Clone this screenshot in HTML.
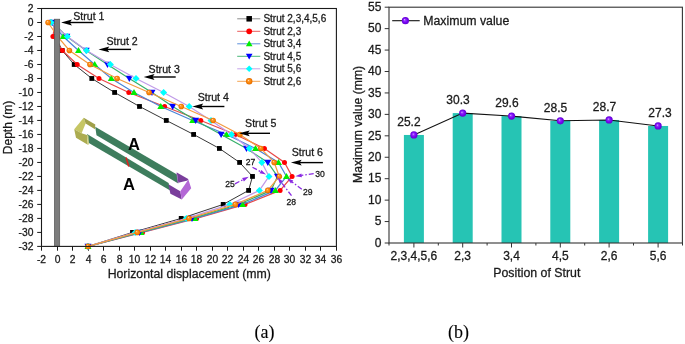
<!DOCTYPE html>
<html><head><meta charset="utf-8"><style>
html,body{margin:0;padding:0;background:#fff;}
svg{display:block;font-family:"Liberation Sans", sans-serif;will-change:transform;}
text{stroke:#1a1a1a;stroke-width:0.28px;}
</style></head><body>
<svg width="685" height="344" viewBox="0 0 685 344">
<defs>
<radialGradient id="gor" cx="0.5" cy="0.5" r="0.5" fx="0.38" fy="0.36"><stop offset="0" stop-color="#ffe8c8"/><stop offset="0.25" stop-color="#ff9a30"/><stop offset="0.7" stop-color="#f88000"/><stop offset="1" stop-color="#e06800"/></radialGradient>
<radialGradient id="gpu" cx="0.5" cy="0.5" r="0.5" fx="0.38" fy="0.36"><stop offset="0" stop-color="#f4e8ff"/><stop offset="0.22" stop-color="#9a3cff"/><stop offset="0.6" stop-color="#7a08f4"/><stop offset="1" stop-color="#6200d0"/></radialGradient>
</defs>
<rect width="685" height="344" fill="#fff"/>
<line x1="37.20" y1="8.50" x2="41.50" y2="8.50" stroke="#1a1a1a" stroke-width="1"/>
<text x="33.4" y="12.10" text-anchor="end" font-size="10.3" fill="#1a1a1a">2</text>
<line x1="37.20" y1="22.49" x2="41.50" y2="22.49" stroke="#1a1a1a" stroke-width="1"/>
<text x="33.4" y="26.09" text-anchor="end" font-size="10.3" fill="#1a1a1a">0</text>
<line x1="37.20" y1="36.49" x2="41.50" y2="36.49" stroke="#1a1a1a" stroke-width="1"/>
<text x="33.4" y="40.09" text-anchor="end" font-size="10.3" fill="#1a1a1a">-2</text>
<line x1="37.20" y1="50.48" x2="41.50" y2="50.48" stroke="#1a1a1a" stroke-width="1"/>
<text x="33.4" y="54.08" text-anchor="end" font-size="10.3" fill="#1a1a1a">-4</text>
<line x1="37.20" y1="64.48" x2="41.50" y2="64.48" stroke="#1a1a1a" stroke-width="1"/>
<text x="33.4" y="68.08" text-anchor="end" font-size="10.3" fill="#1a1a1a">-6</text>
<line x1="37.20" y1="78.47" x2="41.50" y2="78.47" stroke="#1a1a1a" stroke-width="1"/>
<text x="33.4" y="82.07" text-anchor="end" font-size="10.3" fill="#1a1a1a">-8</text>
<line x1="37.20" y1="92.46" x2="41.50" y2="92.46" stroke="#1a1a1a" stroke-width="1"/>
<text x="33.4" y="96.06" text-anchor="end" font-size="10.3" fill="#1a1a1a">-10</text>
<line x1="37.20" y1="106.46" x2="41.50" y2="106.46" stroke="#1a1a1a" stroke-width="1"/>
<text x="33.4" y="110.06" text-anchor="end" font-size="10.3" fill="#1a1a1a">-12</text>
<line x1="37.20" y1="120.45" x2="41.50" y2="120.45" stroke="#1a1a1a" stroke-width="1"/>
<text x="33.4" y="124.05" text-anchor="end" font-size="10.3" fill="#1a1a1a">-14</text>
<line x1="37.20" y1="134.45" x2="41.50" y2="134.45" stroke="#1a1a1a" stroke-width="1"/>
<text x="33.4" y="138.05" text-anchor="end" font-size="10.3" fill="#1a1a1a">-16</text>
<line x1="37.20" y1="148.44" x2="41.50" y2="148.44" stroke="#1a1a1a" stroke-width="1"/>
<text x="33.4" y="152.04" text-anchor="end" font-size="10.3" fill="#1a1a1a">-18</text>
<line x1="37.20" y1="162.44" x2="41.50" y2="162.44" stroke="#1a1a1a" stroke-width="1"/>
<text x="33.4" y="166.04" text-anchor="end" font-size="10.3" fill="#1a1a1a">-20</text>
<line x1="37.20" y1="176.43" x2="41.50" y2="176.43" stroke="#1a1a1a" stroke-width="1"/>
<text x="33.4" y="180.03" text-anchor="end" font-size="10.3" fill="#1a1a1a">-22</text>
<line x1="37.20" y1="190.42" x2="41.50" y2="190.42" stroke="#1a1a1a" stroke-width="1"/>
<text x="33.4" y="194.02" text-anchor="end" font-size="10.3" fill="#1a1a1a">-24</text>
<line x1="37.20" y1="204.42" x2="41.50" y2="204.42" stroke="#1a1a1a" stroke-width="1"/>
<text x="33.4" y="208.02" text-anchor="end" font-size="10.3" fill="#1a1a1a">-26</text>
<line x1="37.20" y1="218.41" x2="41.50" y2="218.41" stroke="#1a1a1a" stroke-width="1"/>
<text x="33.4" y="222.01" text-anchor="end" font-size="10.3" fill="#1a1a1a">-28</text>
<line x1="37.20" y1="232.41" x2="41.50" y2="232.41" stroke="#1a1a1a" stroke-width="1"/>
<text x="33.4" y="236.01" text-anchor="end" font-size="10.3" fill="#1a1a1a">-30</text>
<line x1="37.20" y1="246.40" x2="41.50" y2="246.40" stroke="#1a1a1a" stroke-width="1"/>
<text x="33.4" y="250.00" text-anchor="end" font-size="10.3" fill="#1a1a1a">-32</text>
<line x1="41.50" y1="246.40" x2="41.50" y2="250.70" stroke="#1a1a1a" stroke-width="1"/>
<text x="41.50" y="262.6" text-anchor="middle" font-size="10.3" fill="#1a1a1a">-2</text>
<line x1="57.50" y1="246.40" x2="57.50" y2="250.70" stroke="#1a1a1a" stroke-width="1"/>
<text x="57.50" y="262.6" text-anchor="middle" font-size="10.3" fill="#1a1a1a">0</text>
<line x1="72.50" y1="246.40" x2="72.50" y2="250.70" stroke="#1a1a1a" stroke-width="1"/>
<text x="72.50" y="262.6" text-anchor="middle" font-size="10.3" fill="#1a1a1a">2</text>
<line x1="88.50" y1="246.40" x2="88.50" y2="250.70" stroke="#1a1a1a" stroke-width="1"/>
<text x="88.50" y="262.6" text-anchor="middle" font-size="10.3" fill="#1a1a1a">4</text>
<line x1="103.50" y1="246.40" x2="103.50" y2="250.70" stroke="#1a1a1a" stroke-width="1"/>
<text x="103.50" y="262.6" text-anchor="middle" font-size="10.3" fill="#1a1a1a">6</text>
<line x1="119.50" y1="246.40" x2="119.50" y2="250.70" stroke="#1a1a1a" stroke-width="1"/>
<text x="119.50" y="262.6" text-anchor="middle" font-size="10.3" fill="#1a1a1a">8</text>
<line x1="134.50" y1="246.40" x2="134.50" y2="250.70" stroke="#1a1a1a" stroke-width="1"/>
<text x="134.50" y="262.6" text-anchor="middle" font-size="10.3" fill="#1a1a1a">10</text>
<line x1="150.50" y1="246.40" x2="150.50" y2="250.70" stroke="#1a1a1a" stroke-width="1"/>
<text x="150.50" y="262.6" text-anchor="middle" font-size="10.3" fill="#1a1a1a">12</text>
<line x1="165.50" y1="246.40" x2="165.50" y2="250.70" stroke="#1a1a1a" stroke-width="1"/>
<text x="165.50" y="262.6" text-anchor="middle" font-size="10.3" fill="#1a1a1a">14</text>
<line x1="181.50" y1="246.40" x2="181.50" y2="250.70" stroke="#1a1a1a" stroke-width="1"/>
<text x="181.50" y="262.6" text-anchor="middle" font-size="10.3" fill="#1a1a1a">16</text>
<line x1="196.50" y1="246.40" x2="196.50" y2="250.70" stroke="#1a1a1a" stroke-width="1"/>
<text x="196.50" y="262.6" text-anchor="middle" font-size="10.3" fill="#1a1a1a">18</text>
<line x1="212.50" y1="246.40" x2="212.50" y2="250.70" stroke="#1a1a1a" stroke-width="1"/>
<text x="212.50" y="262.6" text-anchor="middle" font-size="10.3" fill="#1a1a1a">20</text>
<line x1="227.50" y1="246.40" x2="227.50" y2="250.70" stroke="#1a1a1a" stroke-width="1"/>
<text x="227.50" y="262.6" text-anchor="middle" font-size="10.3" fill="#1a1a1a">22</text>
<line x1="243.50" y1="246.40" x2="243.50" y2="250.70" stroke="#1a1a1a" stroke-width="1"/>
<text x="243.50" y="262.6" text-anchor="middle" font-size="10.3" fill="#1a1a1a">24</text>
<line x1="258.50" y1="246.40" x2="258.50" y2="250.70" stroke="#1a1a1a" stroke-width="1"/>
<text x="258.50" y="262.6" text-anchor="middle" font-size="10.3" fill="#1a1a1a">26</text>
<line x1="274.50" y1="246.40" x2="274.50" y2="250.70" stroke="#1a1a1a" stroke-width="1"/>
<text x="274.50" y="262.6" text-anchor="middle" font-size="10.3" fill="#1a1a1a">28</text>
<line x1="289.50" y1="246.40" x2="289.50" y2="250.70" stroke="#1a1a1a" stroke-width="1"/>
<text x="289.50" y="262.6" text-anchor="middle" font-size="10.3" fill="#1a1a1a">30</text>
<line x1="305.50" y1="246.40" x2="305.50" y2="250.70" stroke="#1a1a1a" stroke-width="1"/>
<text x="305.50" y="262.6" text-anchor="middle" font-size="10.3" fill="#1a1a1a">32</text>
<line x1="320.50" y1="246.40" x2="320.50" y2="250.70" stroke="#1a1a1a" stroke-width="1"/>
<text x="320.50" y="262.6" text-anchor="middle" font-size="10.3" fill="#1a1a1a">34</text>
<line x1="336.50" y1="246.40" x2="336.50" y2="250.70" stroke="#1a1a1a" stroke-width="1"/>
<text x="336.50" y="262.6" text-anchor="middle" font-size="10.3" fill="#1a1a1a">36</text>
<text x="189.3" y="278.3" text-anchor="middle" font-size="12.3" fill="#1a1a1a">Horizontal displacement (mm)</text>
<text transform="translate(12.2,127.5) rotate(-90)" text-anchor="middle" font-size="12" fill="#1a1a1a">Depth (m)</text>
<polyline points="53.50,22.49 55.50,36.49 62.20,50.48 74.20,64.48 91.80,78.47 114.60,92.46 139.50,106.46 166.30,120.45 193.60,134.45 219.40,148.44 239.60,162.44 252.50,176.43 248.60,190.42 223.20,204.42 181.20,218.41 132.50,232.41 88.00,246.40" fill="none" stroke="#2b2b2b" stroke-width="0.95"/>
<rect x="51.10" y="20.09" width="4.80" height="4.80" fill="#000000"/>
<rect x="53.10" y="34.09" width="4.80" height="4.80" fill="#000000"/>
<rect x="59.80" y="48.08" width="4.80" height="4.80" fill="#000000"/>
<rect x="71.80" y="62.08" width="4.80" height="4.80" fill="#000000"/>
<rect x="89.40" y="76.07" width="4.80" height="4.80" fill="#000000"/>
<rect x="112.20" y="90.06" width="4.80" height="4.80" fill="#000000"/>
<rect x="137.10" y="104.06" width="4.80" height="4.80" fill="#000000"/>
<rect x="163.90" y="118.05" width="4.80" height="4.80" fill="#000000"/>
<rect x="191.20" y="132.05" width="4.80" height="4.80" fill="#000000"/>
<rect x="217.00" y="146.04" width="4.80" height="4.80" fill="#000000"/>
<rect x="237.20" y="160.04" width="4.80" height="4.80" fill="#000000"/>
<rect x="250.10" y="174.03" width="4.80" height="4.80" fill="#000000"/>
<rect x="246.20" y="188.02" width="4.80" height="4.80" fill="#000000"/>
<rect x="220.80" y="202.02" width="4.80" height="4.80" fill="#000000"/>
<rect x="178.80" y="216.01" width="4.80" height="4.80" fill="#000000"/>
<rect x="130.10" y="230.01" width="4.80" height="4.80" fill="#000000"/>
<rect x="85.60" y="244.00" width="4.80" height="4.80" fill="#000000"/>
<polyline points="55.00,22.49 52.90,36.49 62.40,50.48 77.20,64.48 99.00,78.47 128.80,92.46 164.60,106.46 200.80,120.45 235.30,134.45 264.40,148.44 284.50,162.44 292.10,176.43 280.10,190.42 245.00,204.42 196.50,218.41 142.50,232.41 88.00,246.40" fill="none" stroke="#e84848" stroke-width="1.2"/>
<circle cx="55.00" cy="22.49" r="2.50" fill="#ff0000"/>
<circle cx="52.90" cy="36.49" r="2.50" fill="#ff0000"/>
<circle cx="62.40" cy="50.48" r="2.50" fill="#ff0000"/>
<circle cx="77.20" cy="64.48" r="2.50" fill="#ff0000"/>
<circle cx="99.00" cy="78.47" r="2.50" fill="#ff0000"/>
<circle cx="128.80" cy="92.46" r="2.50" fill="#ff0000"/>
<circle cx="164.60" cy="106.46" r="2.50" fill="#ff0000"/>
<circle cx="200.80" cy="120.45" r="2.50" fill="#ff0000"/>
<circle cx="235.30" cy="134.45" r="2.50" fill="#ff0000"/>
<circle cx="264.40" cy="148.44" r="2.50" fill="#ff0000"/>
<circle cx="284.50" cy="162.44" r="2.50" fill="#ff0000"/>
<circle cx="292.10" cy="176.43" r="2.50" fill="#ff0000"/>
<circle cx="280.10" cy="190.42" r="2.50" fill="#ff0000"/>
<circle cx="245.00" cy="204.42" r="2.50" fill="#ff0000"/>
<circle cx="196.50" cy="218.41" r="2.50" fill="#ff0000"/>
<circle cx="142.50" cy="232.41" r="2.50" fill="#ff0000"/>
<circle cx="88.00" cy="246.40" r="2.50" fill="#ff0000"/>
<polyline points="51.00,22.49 63.20,36.49 78.50,50.48 94.70,64.48 111.30,78.47 134.00,92.46 160.80,106.46 192.70,120.45 226.50,134.45 255.50,148.44 278.50,162.44 286.50,176.43 275.30,190.42 242.50,204.42 194.80,218.41 141.00,232.41 88.00,246.40" fill="none" stroke="#4a84d8" stroke-width="1.2"/>
<polygon points="51.00,18.99 54.50,25.12 47.50,25.12" fill="#00ee00"/>
<polygon points="63.20,32.99 66.70,39.11 59.70,39.11" fill="#00ee00"/>
<polygon points="78.50,46.98 82.00,53.11 75.00,53.11" fill="#00ee00"/>
<polygon points="94.70,60.98 98.20,67.10 91.20,67.10" fill="#00ee00"/>
<polygon points="111.30,74.97 114.80,81.10 107.80,81.10" fill="#00ee00"/>
<polygon points="134.00,88.96 137.50,95.09 130.50,95.09" fill="#00ee00"/>
<polygon points="160.80,102.96 164.30,109.08 157.30,109.08" fill="#00ee00"/>
<polygon points="192.70,116.95 196.20,123.08 189.20,123.08" fill="#00ee00"/>
<polygon points="226.50,130.95 230.00,137.07 223.00,137.07" fill="#00ee00"/>
<polygon points="255.50,144.94 259.00,151.07 252.00,151.07" fill="#00ee00"/>
<polygon points="278.50,158.94 282.00,165.06 275.00,165.06" fill="#00ee00"/>
<polygon points="286.50,172.93 290.00,179.05 283.00,179.05" fill="#00ee00"/>
<polygon points="275.30,186.92 278.80,193.05 271.80,193.05" fill="#00ee00"/>
<polygon points="242.50,200.92 246.00,207.04 239.00,207.04" fill="#00ee00"/>
<polygon points="194.80,214.91 198.30,221.04 191.30,221.04" fill="#00ee00"/>
<polygon points="141.00,228.91 144.50,235.03 137.50,235.03" fill="#00ee00"/>
<polygon points="88.00,242.90 91.50,249.03 84.50,249.03" fill="#00ee00"/>
<polyline points="52.50,22.49 66.80,36.49 86.20,50.48 107.50,64.48 129.30,78.47 152.00,92.46 172.70,106.46 195.70,120.45 221.10,134.45 246.50,148.44 267.80,162.44 277.50,176.43 271.00,190.42 238.60,204.42 192.00,218.41 139.50,232.41 88.00,246.40" fill="none" stroke="#36b06a" stroke-width="1.2"/>
<polygon points="49.00,19.87 56.00,19.87 52.50,25.99" fill="#0000ff"/>
<polygon points="63.30,33.86 70.30,33.86 66.80,39.99" fill="#0000ff"/>
<polygon points="82.70,47.86 89.70,47.86 86.20,53.98" fill="#0000ff"/>
<polygon points="104.00,61.85 111.00,61.85 107.50,67.98" fill="#0000ff"/>
<polygon points="125.80,75.85 132.80,75.85 129.30,81.97" fill="#0000ff"/>
<polygon points="148.50,89.84 155.50,89.84 152.00,95.96" fill="#0000ff"/>
<polygon points="169.20,103.83 176.20,103.83 172.70,109.96" fill="#0000ff"/>
<polygon points="192.20,117.83 199.20,117.83 195.70,123.95" fill="#0000ff"/>
<polygon points="217.60,131.82 224.60,131.82 221.10,137.95" fill="#0000ff"/>
<polygon points="243.00,145.82 250.00,145.82 246.50,151.94" fill="#0000ff"/>
<polygon points="264.30,159.81 271.30,159.81 267.80,165.94" fill="#0000ff"/>
<polygon points="274.00,173.80 281.00,173.80 277.50,179.93" fill="#0000ff"/>
<polygon points="267.50,187.80 274.50,187.80 271.00,193.92" fill="#0000ff"/>
<polygon points="235.10,201.79 242.10,201.79 238.60,207.92" fill="#0000ff"/>
<polygon points="188.50,215.79 195.50,215.79 192.00,221.91" fill="#0000ff"/>
<polygon points="136.00,229.78 143.00,229.78 139.50,235.91" fill="#0000ff"/>
<polygon points="84.50,243.78 91.50,243.78 88.00,249.90" fill="#0000ff"/>
<polyline points="51.20,22.49 67.30,36.49 86.50,50.48 110.40,64.48 136.00,78.47 163.60,92.46 189.20,106.46 211.00,120.45 231.50,134.45 249.30,148.44 261.80,162.44 269.00,176.43 259.40,190.42 229.80,204.42 186.40,218.41 135.20,232.41 88.00,246.40" fill="none" stroke="#c09ae8" stroke-width="1.2"/>
<polygon points="51.20,18.99 54.70,22.49 51.20,25.99 47.70,22.49" fill="#00ffff"/>
<polygon points="67.30,32.99 70.80,36.49 67.30,39.99 63.80,36.49" fill="#00ffff"/>
<polygon points="86.50,46.98 90.00,50.48 86.50,53.98 83.00,50.48" fill="#00ffff"/>
<polygon points="110.40,60.98 113.90,64.48 110.40,67.98 106.90,64.48" fill="#00ffff"/>
<polygon points="136.00,74.97 139.50,78.47 136.00,81.97 132.50,78.47" fill="#00ffff"/>
<polygon points="163.60,88.96 167.10,92.46 163.60,95.96 160.10,92.46" fill="#00ffff"/>
<polygon points="189.20,102.96 192.70,106.46 189.20,109.96 185.70,106.46" fill="#00ffff"/>
<polygon points="211.00,116.95 214.50,120.45 211.00,123.95 207.50,120.45" fill="#00ffff"/>
<polygon points="231.50,130.95 235.00,134.45 231.50,137.95 228.00,134.45" fill="#00ffff"/>
<polygon points="249.30,144.94 252.80,148.44 249.30,151.94 245.80,148.44" fill="#00ffff"/>
<polygon points="261.80,158.94 265.30,162.44 261.80,165.94 258.30,162.44" fill="#00ffff"/>
<polygon points="269.00,172.93 272.50,176.43 269.00,179.93 265.50,176.43" fill="#00ffff"/>
<polygon points="259.40,186.92 262.90,190.42 259.40,193.92 255.90,190.42" fill="#00ffff"/>
<polygon points="229.80,200.92 233.30,204.42 229.80,207.92 226.30,204.42" fill="#00ffff"/>
<polygon points="186.40,214.91 189.90,218.41 186.40,221.91 182.90,218.41" fill="#00ffff"/>
<polygon points="135.20,228.91 138.70,232.41 135.20,235.91 131.70,232.41" fill="#00ffff"/>
<polygon points="88.00,242.90 91.50,246.40 88.00,249.90 84.50,246.40" fill="#00ffff"/>
<polyline points="48.10,22.49 57.50,36.49 69.40,50.48 90.00,64.48 117.10,78.47 149.10,92.46 181.30,106.46 213.10,120.45 239.80,134.45 260.80,148.44 274.20,162.44 279.30,176.43 267.80,190.42 235.40,204.42 189.00,218.41 137.30,232.41 88.00,246.40" fill="none" stroke="#f39a40" stroke-width="1.2"/>
<circle cx="48.10" cy="22.49" r="2.80" fill="url(#gor)"/>
<circle cx="57.50" cy="36.49" r="2.80" fill="url(#gor)"/>
<circle cx="69.40" cy="50.48" r="2.80" fill="url(#gor)"/>
<circle cx="90.00" cy="64.48" r="2.80" fill="url(#gor)"/>
<circle cx="117.10" cy="78.47" r="2.80" fill="url(#gor)"/>
<circle cx="149.10" cy="92.46" r="2.80" fill="url(#gor)"/>
<circle cx="181.30" cy="106.46" r="2.80" fill="url(#gor)"/>
<circle cx="213.10" cy="120.45" r="2.80" fill="url(#gor)"/>
<circle cx="239.80" cy="134.45" r="2.80" fill="url(#gor)"/>
<circle cx="260.80" cy="148.44" r="2.80" fill="url(#gor)"/>
<circle cx="274.20" cy="162.44" r="2.80" fill="url(#gor)"/>
<circle cx="279.30" cy="176.43" r="2.80" fill="url(#gor)"/>
<circle cx="267.80" cy="190.42" r="2.80" fill="url(#gor)"/>
<circle cx="235.40" cy="204.42" r="2.80" fill="url(#gor)"/>
<circle cx="189.00" cy="218.41" r="2.80" fill="url(#gor)"/>
<circle cx="137.30" cy="232.41" r="2.80" fill="url(#gor)"/>
<circle cx="88.00" cy="246.40" r="2.80" fill="url(#gor)"/>
<rect x="54.4" y="19.2" width="5.3" height="227.20" fill="#7c7c7c" stroke="#555" stroke-width="0.7"/>
<rect x="41.5" y="8.5" width="294.90" height="237.90" fill="none" stroke="#1a1a1a" stroke-width="1.1"/>
<line x1="237.2" y1="18.8" x2="260.3" y2="18.8" stroke="#808080" stroke-width="0.9"/>
<rect x="246.44" y="16.04" width="5.52" height="5.52" fill="#000000"/>
<text x="263.4" y="22.40" font-size="10" fill="#1a1a1a">Strut 2,3,4,5,6</text>
<line x1="237.2" y1="31.3" x2="260.3" y2="31.3" stroke="#e84848" stroke-width="0.9"/>
<circle cx="249.20" cy="31.30" r="2.88" fill="#ff0000"/>
<text x="263.4" y="34.90" font-size="10" fill="#1a1a1a">Strut 2,3</text>
<line x1="237.2" y1="43.8" x2="260.3" y2="43.8" stroke="#4a84d8" stroke-width="0.9"/>
<polygon points="249.20,40.47 252.52,46.29 245.88,46.29" fill="#00ee00"/>
<text x="263.4" y="47.40" font-size="10" fill="#1a1a1a">Strut 3,4</text>
<line x1="237.2" y1="56.3" x2="260.3" y2="56.3" stroke="#36b06a" stroke-width="0.9"/>
<polygon points="245.88,53.81 252.52,53.81 249.20,59.62" fill="#0000ff"/>
<text x="263.4" y="59.90" font-size="10" fill="#1a1a1a">Strut 4,5</text>
<line x1="237.2" y1="68.8" x2="260.3" y2="68.8" stroke="#c09ae8" stroke-width="0.9"/>
<polygon points="249.20,65.47 252.52,68.80 249.20,72.12 245.88,68.80" fill="#00ffff"/>
<text x="263.4" y="72.40" font-size="10" fill="#1a1a1a">Strut 5,6</text>
<line x1="237.2" y1="81.3" x2="260.3" y2="81.3" stroke="#f39a40" stroke-width="0.9"/>
<circle cx="249.20" cy="81.30" r="3.22" fill="url(#gor)"/>
<text x="263.4" y="84.90" font-size="10" fill="#1a1a1a">Strut 2,6</text>
<text x="73.3" y="20.2" font-size="10.6" fill="#1a1a1a">Strut 1</text>
<line x1="69.10" y1="22.5" x2="93.4" y2="22.5" stroke="#000" stroke-width="1.4"/>
<polygon points="61.1,22.5 71.90,19.60 69.90,22.5 71.90,25.40" fill="#000"/>
<text x="106.5" y="45.2" font-size="10.6" fill="#1a1a1a">Strut 2</text>
<line x1="106.50" y1="49.4" x2="131" y2="49.4" stroke="#000" stroke-width="1.4"/>
<polygon points="98.5,49.4 109.30,46.50 107.30,49.4 109.30,52.30" fill="#000"/>
<text x="148.6" y="72.6" font-size="10.6" fill="#1a1a1a">Strut 3</text>
<line x1="151.70" y1="77.0" x2="175.7" y2="77.0" stroke="#000" stroke-width="1.4"/>
<polygon points="143.7,77.0 154.50,74.10 152.50,77.0 154.50,79.90" fill="#000"/>
<text x="197.7" y="100.8" font-size="10.6" fill="#1a1a1a">Strut 4</text>
<line x1="200.40" y1="106.5" x2="224.4" y2="106.5" stroke="#000" stroke-width="1.4"/>
<polygon points="192.4,106.5 203.20,103.60 201.20,106.5 203.20,109.40" fill="#000"/>
<text x="245.1" y="127.0" font-size="10.6" fill="#1a1a1a">Strut 5</text>
<line x1="246.90" y1="133.3" x2="270" y2="133.3" stroke="#000" stroke-width="1.4"/>
<polygon points="238.9,133.3 249.70,130.40 247.70,133.3 249.70,136.20" fill="#000"/>
<text x="291.8" y="155.6" font-size="10.6" fill="#1a1a1a">Strut 6</text>
<line x1="298.90" y1="162.60000000000002" x2="322.9" y2="162.60000000000002" stroke="#000" stroke-width="1.4"/>
<polygon points="290.9,162.60000000000002 301.70,159.70 299.70,162.60000000000002 301.70,165.50" fill="#000"/>
<text x="245.8" y="165.4" font-size="8.6" fill="#1a1a1a">27</text>
<line x1="252.5" y1="167.3" x2="260.90" y2="171.81" stroke="#8a2be2" stroke-width="1.3" stroke-dasharray="5,2,1.5,2"/>
<polygon points="266.1,174.6 259.56,173.25 261.36,169.90" fill="#8a2be2"/>
<text x="225.2" y="187.0" font-size="8.6" fill="#1a1a1a">25</text>
<line x1="234.9" y1="183.8" x2="243.44" y2="179.47" stroke="#8a2be2" stroke-width="1.3" stroke-dasharray="5,2,1.5,2"/>
<polygon points="248.7,176.8 243.85,181.39 242.13,178.00" fill="#8a2be2"/>
<text x="315.3" y="176.6" font-size="8.6" fill="#1a1a1a">30</text>
<line x1="313.7" y1="173.6" x2="301.14" y2="175.44" stroke="#8a2be2" stroke-width="1.3" stroke-dasharray="5,2,1.5,2"/>
<polygon points="295.3,176.3 301.36,173.49 301.91,177.25" fill="#8a2be2"/>
<text x="303.0" y="195.0" font-size="8.6" fill="#1a1a1a">29</text>
<line x1="301.8" y1="189.2" x2="291.74" y2="181.72" stroke="#8a2be2" stroke-width="1.3" stroke-dasharray="5,2,1.5,2"/>
<polygon points="287.0,178.2 293.27,180.49 291.00,183.54" fill="#8a2be2"/>
<text x="286.5" y="205.3" font-size="8.6" fill="#1a1a1a">28</text>
<line x1="291.5" y1="195.7" x2="281.08" y2="182.09" stroke="#8a2be2" stroke-width="1.3" stroke-dasharray="5,2,1.5,2"/>
<polygon points="277.5,177.4 282.90,181.33 279.88,183.64" fill="#8a2be2"/>
<polygon points="95.2,126.8 177.0,174.4 178.3,183.6 96.5,135.3" fill="#3e7d5d"/>
<polygon points="87.0,134.1 168.6,183.1 170.2,190.4 88.4,142.8" fill="#3e7d5d"/>
<polygon points="83.7,117.8 74.2,129.3 81.6,133.2 85.6,123.6" fill="#c6c664"/>
<polygon points="83.7,117.8 95.3,124.4 95.0,129.2 85.6,123.6" fill="#a0a04a"/>
<polygon points="74.2,129.3 76.0,137.8 87.8,144.8 87.0,135.0 81.6,133.2" fill="#acac50"/>
<polygon points="87.0,135.0 87.8,144.8 89.0,144.4 88.4,135.6" fill="#d2d282"/>
<polygon points="176.8,172.4 188.2,178.9 187.7,180.6 178.3,182.8" fill="#7a3e9c"/>
<polygon points="176.8,172.4 178.3,182.8 177.6,182.9 176.4,172.8" fill="#a865c8"/>
<polygon points="168.4,184.3 180.3,191.2 181.8,199.6 170.4,193.7" fill="#7a3e9c"/>
<polygon points="188.2,178.9 191.2,188.2 181.8,199.6 180.3,191.2 187.7,180.6" fill="#b468d6"/>
<line x1="126.0" y1="157.6" x2="128.8" y2="166.4" stroke="#e02020" stroke-width="1.5"/>
<text x="134.1" y="149.6" text-anchor="middle" font-size="16.6" font-weight="bold" fill="#000" style="stroke:none">A</text>
<text x="129.0" y="189.6" text-anchor="middle" font-size="16.6" font-weight="bold" fill="#000" style="stroke:none">A</text>
<line x1="384.70" y1="243.00" x2="389.0" y2="243.00" stroke="#333" stroke-width="1"/>
<text x="381.4" y="246.80" text-anchor="end" font-size="12" fill="#1a1a1a">0</text>
<line x1="384.70" y1="221.56" x2="389.0" y2="221.56" stroke="#333" stroke-width="1"/>
<text x="381.4" y="225.36" text-anchor="end" font-size="12" fill="#1a1a1a">5</text>
<line x1="384.70" y1="200.13" x2="389.0" y2="200.13" stroke="#333" stroke-width="1"/>
<text x="381.4" y="203.93" text-anchor="end" font-size="12" fill="#1a1a1a">10</text>
<line x1="384.70" y1="178.69" x2="389.0" y2="178.69" stroke="#333" stroke-width="1"/>
<text x="381.4" y="182.49" text-anchor="end" font-size="12" fill="#1a1a1a">15</text>
<line x1="384.70" y1="157.25" x2="389.0" y2="157.25" stroke="#333" stroke-width="1"/>
<text x="381.4" y="161.05" text-anchor="end" font-size="12" fill="#1a1a1a">20</text>
<line x1="384.70" y1="135.82" x2="389.0" y2="135.82" stroke="#333" stroke-width="1"/>
<text x="381.4" y="139.62" text-anchor="end" font-size="12" fill="#1a1a1a">25</text>
<line x1="384.70" y1="114.38" x2="389.0" y2="114.38" stroke="#333" stroke-width="1"/>
<text x="381.4" y="118.18" text-anchor="end" font-size="12" fill="#1a1a1a">30</text>
<line x1="384.70" y1="92.95" x2="389.0" y2="92.95" stroke="#333" stroke-width="1"/>
<text x="381.4" y="96.75" text-anchor="end" font-size="12" fill="#1a1a1a">35</text>
<line x1="384.70" y1="71.51" x2="389.0" y2="71.51" stroke="#333" stroke-width="1"/>
<text x="381.4" y="75.31" text-anchor="end" font-size="12" fill="#1a1a1a">40</text>
<line x1="384.70" y1="50.07" x2="389.0" y2="50.07" stroke="#333" stroke-width="1"/>
<text x="381.4" y="53.87" text-anchor="end" font-size="12" fill="#1a1a1a">45</text>
<line x1="384.70" y1="28.64" x2="389.0" y2="28.64" stroke="#333" stroke-width="1"/>
<text x="381.4" y="32.44" text-anchor="end" font-size="12" fill="#1a1a1a">50</text>
<line x1="384.70" y1="7.20" x2="389.0" y2="7.20" stroke="#333" stroke-width="1"/>
<text x="381.4" y="11.00" text-anchor="end" font-size="12" fill="#1a1a1a">55</text>
<rect x="403.90" y="134.96" width="20" height="108.04" fill="#26c4b4"/>
<rect x="452.70" y="113.10" width="20" height="129.90" fill="#26c4b4"/>
<rect x="501.50" y="116.10" width="20" height="126.90" fill="#26c4b4"/>
<rect x="550.30" y="120.81" width="20" height="122.19" fill="#26c4b4"/>
<rect x="599.10" y="119.96" width="20" height="123.04" fill="#26c4b4"/>
<rect x="648.10" y="125.96" width="20" height="117.04" fill="#26c4b4"/>
<line x1="389.0" y1="243.0" x2="389.0" y2="245.5" stroke="#333" stroke-width="1"/>
<line x1="413.9" y1="243.0" x2="413.9" y2="247.5" stroke="#333" stroke-width="1"/>
<line x1="438.30" y1="243.0" x2="438.30" y2="245.5" stroke="#333" stroke-width="1"/>
<text x="413.9" y="260.2" text-anchor="middle" font-size="12" fill="#1a1a1a">2,3,4,5,6</text>
<line x1="462.7" y1="243.0" x2="462.7" y2="247.5" stroke="#333" stroke-width="1"/>
<line x1="487.10" y1="243.0" x2="487.10" y2="245.5" stroke="#333" stroke-width="1"/>
<text x="462.7" y="260.2" text-anchor="middle" font-size="12" fill="#1a1a1a">2,3</text>
<line x1="511.5" y1="243.0" x2="511.5" y2="247.5" stroke="#333" stroke-width="1"/>
<line x1="535.90" y1="243.0" x2="535.90" y2="245.5" stroke="#333" stroke-width="1"/>
<text x="511.5" y="260.2" text-anchor="middle" font-size="12" fill="#1a1a1a">3,4</text>
<line x1="560.3" y1="243.0" x2="560.3" y2="247.5" stroke="#333" stroke-width="1"/>
<line x1="584.70" y1="243.0" x2="584.70" y2="245.5" stroke="#333" stroke-width="1"/>
<text x="560.3" y="260.2" text-anchor="middle" font-size="12" fill="#1a1a1a">4,5</text>
<line x1="609.1" y1="243.0" x2="609.1" y2="247.5" stroke="#333" stroke-width="1"/>
<line x1="633.50" y1="243.0" x2="633.50" y2="245.5" stroke="#333" stroke-width="1"/>
<text x="609.1" y="260.2" text-anchor="middle" font-size="12" fill="#1a1a1a">2,6</text>
<line x1="658.1" y1="243.0" x2="658.1" y2="247.5" stroke="#333" stroke-width="1"/>
<line x1="682.50" y1="243.0" x2="682.50" y2="245.5" stroke="#333" stroke-width="1"/>
<text x="658.1" y="260.2" text-anchor="middle" font-size="12" fill="#1a1a1a">5,6</text>
<polyline points="413.9,134.96 462.7,113.10 511.5,116.10 560.3,120.81 609.1,119.96 658.1,125.96" fill="none" stroke="#111" stroke-width="1.1"/>
<circle cx="413.9" cy="134.96" r="3.6" fill="url(#gpu)"/>
<circle cx="462.7" cy="113.10" r="3.6" fill="url(#gpu)"/>
<circle cx="511.5" cy="116.10" r="3.6" fill="url(#gpu)"/>
<circle cx="560.3" cy="120.81" r="3.6" fill="url(#gpu)"/>
<circle cx="609.1" cy="119.96" r="3.6" fill="url(#gpu)"/>
<circle cx="658.1" cy="125.96" r="3.6" fill="url(#gpu)"/>
<text x="408.9" y="125.76" text-anchor="middle" font-size="12" fill="#1a1a1a">25.2</text>
<text x="458.0" y="103.90" text-anchor="middle" font-size="12" fill="#1a1a1a">30.3</text>
<text x="506.9" y="106.90" text-anchor="middle" font-size="12" fill="#1a1a1a">29.6</text>
<text x="555.5" y="111.61" text-anchor="middle" font-size="12" fill="#1a1a1a">28.5</text>
<text x="604.5" y="110.76" text-anchor="middle" font-size="12" fill="#1a1a1a">28.7</text>
<text x="660.0" y="116.76" text-anchor="middle" font-size="12" fill="#1a1a1a">27.3</text>
<rect x="389.0" y="7.2" width="293.40" height="235.80" fill="none" stroke="#333" stroke-width="1.1"/>
<text x="536.8" y="276.6" text-anchor="middle" font-size="12.35" fill="#1a1a1a">Position of Strut</text>
<text transform="translate(362.4,124.4) rotate(-90)" text-anchor="middle" font-size="12.2" fill="#1a1a1a">Maximum value (mm)</text>
<line x1="392.2" y1="20.7" x2="419.7" y2="20.7" stroke="#111" stroke-width="1.1"/>
<circle cx="405.4" cy="20.7" r="3.6" fill="url(#gpu)"/>
<text x="423.2" y="24.9" font-size="12.3" fill="#1a1a1a">Maximum value</text>
<text x="254.6" y="337.8" font-family="'Liberation Serif', serif" font-size="18" fill="#000" style="stroke-width:0.12px">(a)</text>
<text x="447.9" y="337.8" font-family="'Liberation Serif', serif" font-size="18" fill="#000" style="stroke-width:0.12px">(b)</text>
</svg></body></html>
